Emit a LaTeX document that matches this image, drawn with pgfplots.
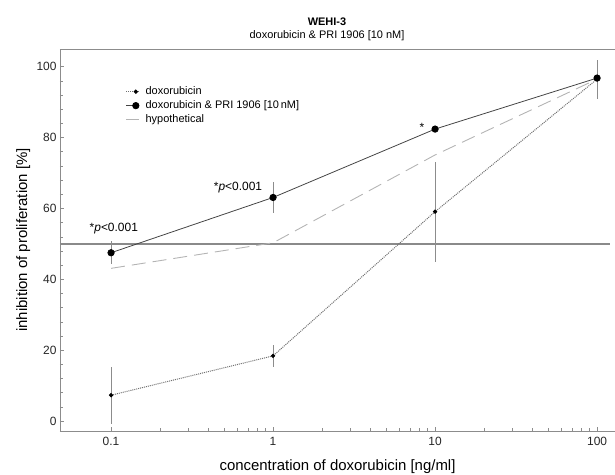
\documentclass[border=0pt]{standalone}
\usepackage{fontspec}
\setmainfont{Liberation Sans}
\usepackage{pgfplots}
\pgfplotsset{compat=1.18}
\definecolor{axgray}{HTML}{8C8C8C}
\definecolor{combo}{HTML}{444444}
\definecolor{doxo}{HTML}{707070}
\definecolor{hypo}{HTML}{B4B4B4}
\definecolor{fifty}{HTML}{8A8A8A}
\begin{document}
\begin{tikzpicture}
\useasboundingbox (0bp,0bp) rectangle (615bp,475bp);
\node[font=\fontsize{11}{12}\selectfont\bfseries] at (327bp,453bp) {WEHI-3};
\node[font=\fontsize{11}{12}\selectfont] at (327bp,439bp) {doxorubicin \& PRI 1906 [10 nM]};
\begin{axis}[
  at={(60bp,44bp)}, anchor=south west,
  scale only axis, width=555bp, height=382bp,
  xmode=log, xmin=0.0484, xmax=129,
  ymin=-2.8, ymax=105,
  axis x line*=box, axis y line*=left,
  xtick pos=left,
  axis line style={axgray, line width=0.9pt},
  every tick/.style={axgray, line width=0.6pt},
  major tick length=4bp, minor tick length=3bp,
  tick align=inside,
  xtick={0.1,1,10,100}, xticklabels={0.1,1,10,100},
  ytick={0,20,40,60,80,100},
  minor y tick num=4,
  /pgf/number format/assume math mode=true,
  tick label style={font=\fontsize{12}{14}\selectfont, text=black!85},
  xticklabel style={yshift=-3bp},
  xlabel={concentration of doxorubicin [ng/ml]},
  ylabel={inhibition of proliferation [\%]},
  label style={font=\fontsize{15}{17}\selectfont},
  xlabel style={at={(axis description cs:0.5,-0.094)}, anchor=center},
  ylabel style={at={(axis description cs:-0.066,0.5)}, anchor=center},
  clip=false,
  legend style={at={(axis description cs:0.118,0.905)}, anchor=north west, draw=none, fill=none,
    font=\fontsize{11}{12}\selectfont, row sep=1.5bp, inner sep=0pt,
    nodes={inner sep=1.5bp},
    /tikz/every odd column/.append style={column sep=5bp}},
  legend cell align=left,
  legend image code/.code={\draw[mark repeat=2, mark phase=2, #1] plot coordinates {(0cm,0cm) (0.34cm,0cm) (0.44cm,0cm)};},
  error bars/error mark=none,
]
% 50% reference line
\addplot[fifty, line width=2.2pt, forget plot] coordinates {(0.0484,50) (120,50)};
% doxorubicin alone
\addplot[doxo, densely dotted, line width=1pt,
  mark=*, mark size=1.6pt, mark options={solid, fill=black, draw=black},
  error bars/.cd, y dir=both, y explicit,
  error bar style={axgray, line width=0.5pt, solid}]
  coordinates {
  (0.1,7.3) +- (0,8.0)
  (1,18.4) +- (0,3.2)
  (10,59.1) +- (0,14.1)
  (100,96.5) +- (0,5.5)
};
\addlegendentry{doxorubicin}
% doxorubicin & PRI 1906
\addplot[combo, line width=0.8pt,
  mark=*, mark size=3.2pt, mark options={fill=black, draw=black},
  error bars/.cd, y dir=both, y explicit,
  error bar style={axgray, line width=0.5pt}]
  coordinates {
  (0.1,47.5) +- (0,3.3)
  (1,63.1) +- (0,4.3)
  (10,82.4) +- (0,0)
  (100,96.8) +- (0,0)
};
\addlegendentry{doxorubicin \& PRI 1906 [10\,nM]}
% hypothetical
\addplot[hypo, line width=0.9pt, dash pattern=on 14bp off 7bp,
  legend image code/.code={\draw[hypo, line width=0.9pt] (0cm,0cm) -- (0.44cm,0cm);}]
  coordinates {
  (0.1,43.1)
  (1,50.3)
  (10,75.1)
  (100,96.5)
};
\addlegendentry{hypothetical}
\node[font=\fontsize{12}{14}\selectfont] at (axis cs:0.104,54.3) {*\textit{p}<0.001};
\node[font=\fontsize{12}{14}\selectfont, anchor=east] at (axis cs:0.9,66.0) {*\textit{p}<0.001};
\node[font=\fontsize{12}{14}\selectfont] at (axis cs:8.3,82.8) {*};
\end{axis}
\end{tikzpicture}
\end{document}
